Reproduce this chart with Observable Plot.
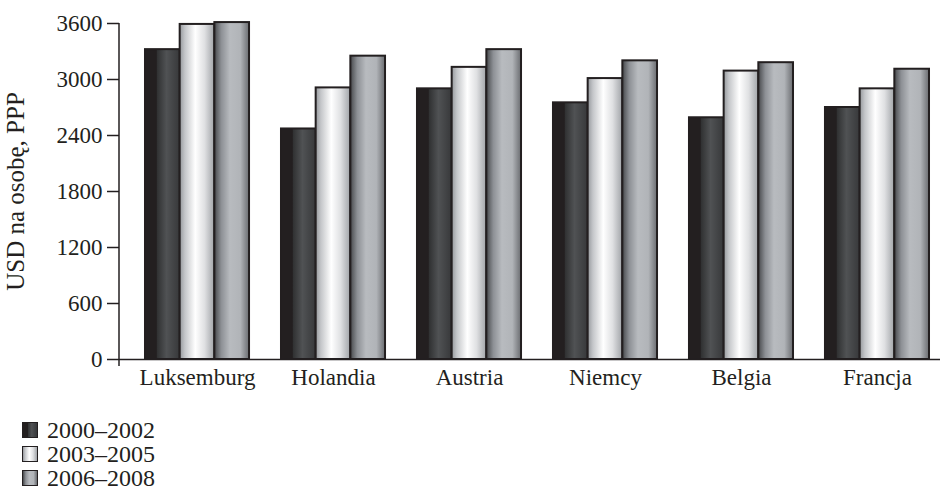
<!DOCTYPE html>
<html>
<head>
<meta charset="utf-8">
<script src="https://cdn.jsdelivr.net/npm/d3@7"></script>
<script src="https://cdn.jsdelivr.net/npm/@observablehq/plot@0.6"></script>
<style>
  body { margin: 0; background: #fff; font-family: "Liberation Serif", "Times New Roman", serif; }
  #legend { padding: 8px 0 0 22px; font-size: 24px; color: #231f20; }
  .row { display: flex; align-items: center; height: 24px; }
  .sw { width: 14px; height: 14px; border: 1px solid #231f20; margin-right: 9px; }
</style>
</head>
<body>
<div id="chart"></div>
<div id="legend"></div>
<script>
const countries = ["Luksemburg", "Holandia", "Austria", "Niemcy", "Belgia", "Francja"];
const periods = ["2000–2002", "2003–2005", "2006–2008"];
const v2000_2002 = [3320, 2470, 2900, 2750, 2590, 2700];
const v2003_2005 = [3590, 2910, 3130, 3010, 3090, 2900];
const v2006_2008 = [3610, 3250, 3320, 3200, 3180, 3110];
const yTicks = [0, 600, 1200, 1800, 2400, 3000, 3600];
const yLabel = "USD na osobę, PPP";

const series = [v2000_2002, v2003_2005, v2006_2008];
const rows = [];
series.forEach((vals, s) => countries.forEach((c, i) => rows.push({country: c, period: periods[s], s, value: vals[i]})));

const gradients = [
  [[0, "#231f20"], [0.33, "#231f20"], [0.34, "#2f3031"], [0.62, "#505254"], [1, "#37383a"]],
  [[0, "#95989c"], [0.15, "#c4c6c9"], [0.45, "#ffffff"], [0.72, "#dfe0e2"], [1, "#a0a3a7"]],
  [[0, "#47494c"], [0.2, "#8d9095"], [0.45, "#b8bbbf"], [0.75, "#b1b4b8"], [1, "#6a6c70"]]
];

const xRange = [129, 945];
const padInner = 0.235, padOuter = 0.1176;
const step = (xRange[1] - xRange[0]) / (countries.length - padInner + 2 * padOuter);
const bw = step * (1 - padInner);
const sub = bw / 3;

const marks = [];
series.forEach((vals, s) => {
  marks.push(Plot.barY(rows.filter(d => d.s === s), {
    x: "country", y: "value",
    insetLeft: sub * s, insetRight: sub * (2 - s),
    fill: `url(#grad${s})`, stroke: "#231f20", strokeWidth: 2
  }));
});

const plot = Plot.plot({
  width: 949,
  height: 410,
  marginLeft: 119,
  marginRight: 9,
  marginTop: 23,
  marginBottom: 51,
  style: {fontFamily: "'Liberation Serif', serif", fontSize: "23px", color: "#231f20", background: "#fff"},
  x: {domain: countries, range: xRange, paddingInner: padInner, paddingOuter: padOuter, round: false},
  y: {domain: [0, 3600]},
  marks: [
    ...marks,
    Plot.ruleY([0], {stroke: "#231f20", strokeWidth: 1.5}),
    Plot.axisY({ticks: yTicks, tickSize: 12, tickPadding: 5, tickFormat: d => String(d),
      label: yLabel, labelAnchor: "center", labelArrow: "none", labelOffset: 113, stroke: "#231f20", strokeWidth: 1.5}),
    Plot.axisX({tickSize: 0, tickPadding: 9, label: null})
  ]
});

const svg = d3.select(plot);
// strip any arrow from the axis label and size it like the reference
svg.selectAll("text").each(function() {
  const t = d3.select(this);
  if (t.text().includes(yLabel)) t.text(yLabel).style("font-size", "25px");
});
const defs = svg.insert("defs", ":first-child");
gradients.forEach((stops, s) => {
  const g = defs.append("linearGradient").attr("id", `grad${s}`).attr("x1", 0).attr("x2", 1).attr("y1", 0).attr("y2", 0);
  stops.forEach(([o, c]) => g.append("stop").attr("offset", o).attr("stop-color", c));
});
// vertical axis line from the scale
const y = plot.scale("y");
const yTop = y.apply(3600), yBot = y.apply(0);
svg.append("line")
  .attr("x1", 119).attr("x2", 119)
  .attr("y1", yTop).attr("y2", yBot + 7)
  .attr("stroke", "#231f20").attr("stroke-width", 1.5);

document.getElementById("chart").appendChild(plot);

const legend = d3.select("#legend");
periods.forEach((p, s) => {
  const r = legend.append("div").attr("class", "row");
  r.append("div").attr("class", "sw")
    .style("background", `linear-gradient(to right, ${gradients[s].map(([o, c]) => `${c} ${o * 100}%`).join(", ")})`);
  r.append("span").text(p);
});
</script>
</body>
</html>
